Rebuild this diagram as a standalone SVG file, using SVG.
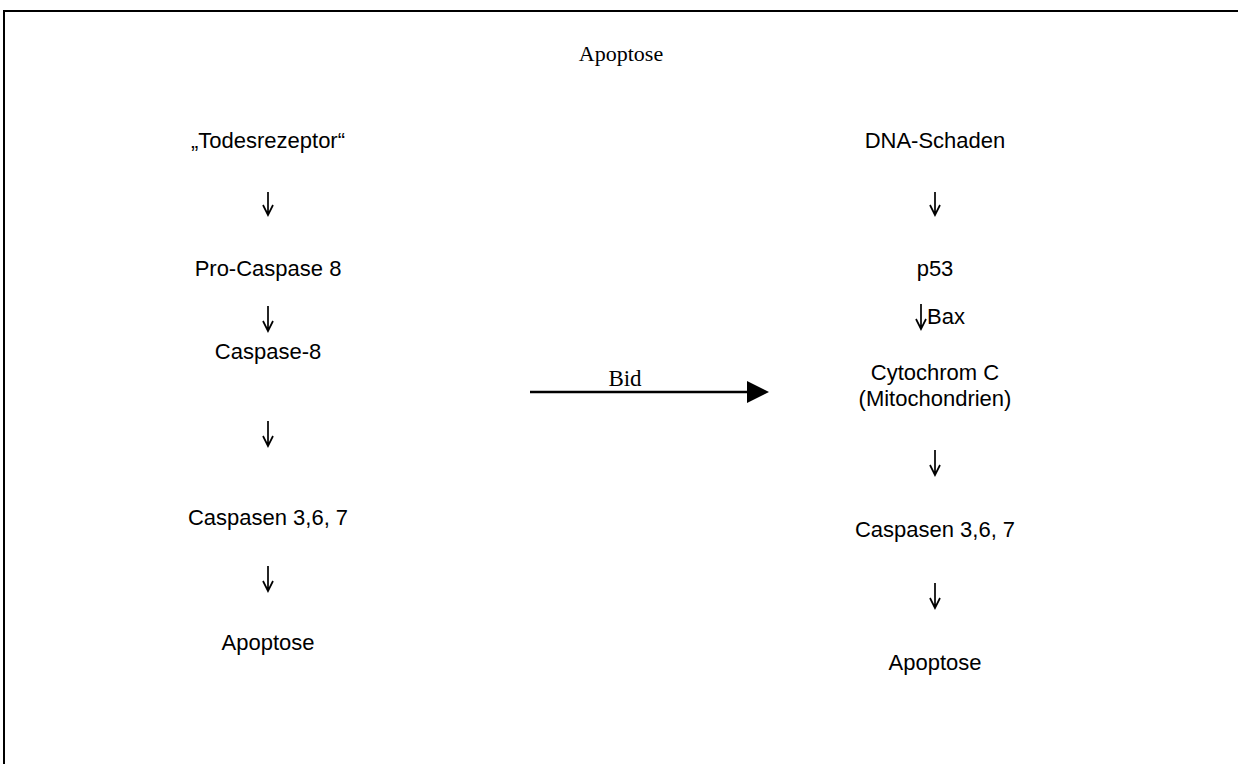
<svg xmlns="http://www.w3.org/2000/svg" width="1238" height="764" viewBox="0 0 1238 764">
<defs>
<style>
.t{font-family:"Liberation Sans",Arial,sans-serif;font-size:22px;fill:#000;text-anchor:middle}
.s{font-family:"Liberation Serif","DejaVu Serif",serif;fill:#000;text-anchor:middle}
.a{fill:none;stroke:#000;stroke-width:1.7}
</style>
</defs>
<rect width="1238" height="764" fill="#fff"/>
<path d="M4,764 V11 H1238" fill="none" stroke="#000" stroke-width="2"/>
<text class="s" x="621" y="61" font-size="22">Apoptose</text>
<g id="n-todesrezeptor"><text class="t" x="268" y="148">„Todesrezeptor“</text></g>
<g id="n-procaspase8"><text class="t" x="268" y="276">Pro-Caspase 8</text></g>
<g id="n-caspase8"><text class="t" x="268" y="359">Caspase-8</text></g>
<g id="n-caspasen-l"><text class="t" x="268" y="525">Caspasen 3,6, 7</text></g>
<g id="n-apoptose-l"><text class="t" x="268" y="650">Apoptose</text></g>
<g id="n-dna"><text class="t" x="935" y="148">DNA-Schaden</text></g>
<g id="n-p53"><text class="t" x="935" y="276">p53</text></g>
<g id="n-cytc"><text class="t" x="935" y="380">Cytochrom C</text><text class="t" x="935" y="406">(Mitochondrien)</text></g>
<g id="n-caspasen-r"><text class="t" x="935" y="537">Caspasen 3,6, 7</text></g>
<g id="n-apoptose-r"><text class="t" x="935" y="670">Apoptose</text></g>
<g id="connectors">
<path class="a" d="M268,192 V215 M263,205 L268,215 L273,205"/>
<path class="a" d="M268,306 V331 M263,321 L268,331 L273,321"/>
<path class="a" d="M268,421 V446 M263,436 L268,446 L273,436"/>
<path class="a" d="M268,566 V591 M263,581 L268,591 L273,581"/>
<path class="a" d="M935,192 V215 M930,205 L935,215 L940,205"/>
<path class="a" d="M921,304 V329 M916,319 L921,329 L926,319"/>
<path class="a" d="M935,450 V475 M930,465 L935,475 L940,465"/>
<path class="a" d="M935,583 V608 M930,598 L935,608 L940,598"/>
<path d="M530,392 H750" stroke="#000" stroke-width="2.5" fill="none"/>
<path d="M747,381 L769,392 L747,403 Z" fill="#000"/>
<text class="s" x="625" y="386" font-size="23">Bid</text>
<text class="t" x="927" y="324" style="text-anchor:start">Bax</text>
</g>
</svg>
